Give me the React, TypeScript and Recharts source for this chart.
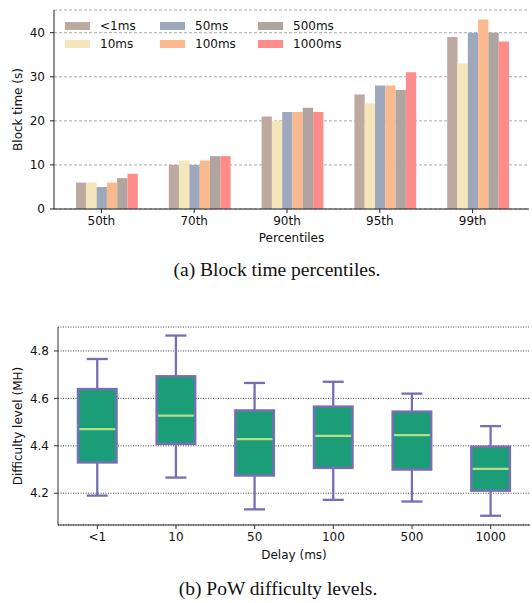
import {
  BarChart,
  Bar,
  ComposedChart,
  XAxis,
  YAxis,
  CartesianGrid,
  Legend,
  Label,
} from 'recharts';

// (a) block time percentiles
const percentiles = ['50th', '70th', '90th', '95th', '99th'];
const delayNames = ['<1ms', '10ms', '50ms', '100ms', '500ms', '1000ms'];
const lt1ms = [6, 10, 21, 26, 39];
const ms10 = [6, 11, 20, 24, 33];
const ms50 = [5, 10, 22, 28, 40];
const ms100 = [6, 11, 22, 28, 43];
const ms500 = [7, 12, 23, 27, 40];
const ms1000 = [8, 12, 22, 31, 38];
const blockTicks = [0, 10, 20, 30, 40];

// (b) PoW difficulty boxes
const delayTicks = ['<1', '10', '50', '100', '500', '1000'];
const boxMin = [4.19, 4.266, 4.132, 4.172, 4.165, 4.105];
const boxQ1 = [4.33, 4.408, 4.275, 4.307, 4.3, 4.211];
const boxMedian = [4.47, 4.527, 4.428, 4.442, 4.445, 4.303];
const boxQ3 = [4.639, 4.693, 4.549, 4.565, 4.544, 4.396];
const boxMax = [4.766, 4.865, 4.665, 4.67, 4.62, 4.483];
const difficultyTicks = [4.2, 4.4, 4.6, 4.8];

const BAR_COLORS = ['#bcaaa0', '#f5e6b9', '#9da8bd', '#fbb98f', '#aea5a1', '#ff8b8b'];
const BOX_FILL = '#1b9e77';
const BOX_EDGE = '#7570b3';
const MEDIAN = '#b2df8a';
const SANS = '"DejaVu Sans", sans-serif';
const TEXT = '#111';

const seriesValues = [lt1ms, ms10, ms50, ms100, ms500, ms1000];
const blockData = percentiles.map((p, i) => {
  const row: Record<string, string | number> = { name: p };
  delayNames.forEach((d, k) => {
    row[d] = seriesValues[k][i];
  });
  return row;
});

const boxData = delayTicks.map((name, i) => ({
  name,
  min: boxMin[i],
  q1: boxQ1[i],
  median: boxMedian[i],
  q3: boxQ3[i],
  max: boxMax[i],
}));

const tickStyle = { fontSize: 12, fill: TEXT, fontFamily: SANS };

// matplotlib put the tick under the 3rd bar of each group, half a bar left of centre
const ShiftedTick = (props: any) => {
  const { x, y, payload } = props;
  const tx = x - 5;
  return (
    <g>
      <line x1={tx} x2={tx} y1={y - 7} y2={y - 3} stroke="#222" />
      <text x={tx} y={y} dy="0.71em" textAnchor="middle" {...tickStyle}>
        {payload.value}
      </text>
    </g>
  );
};

const LegendGrid = (props: any) => {
  // keep series order (recharts sorts legend items by name otherwise)
  const items = [...(props.payload || [])].sort(
    (a: any, b: any) => delayNames.indexOf(a.value) - delayNames.indexOf(b.value)
  );
  return (
    <div
      style={{
        display: 'grid',
        gridTemplateColumns: '95px 98px 110px',
        gridTemplateRows: '18px 18px',
        gridAutoFlow: 'column',
        fontFamily: SANS,
        fontSize: 12,
        color: TEXT,
      }}
    >
      {items.map((it: any) => (
        <div key={it.value} style={{ display: 'flex', alignItems: 'center' }}>
          <span style={{ width: 25, height: 8.5, background: it.color, marginRight: 10 }} />
          <span>{it.value}</span>
        </div>
      ))}
    </div>
  );
};

const BoxShape = (props: any) => {
  const { x, y, width, height, payload } = props;
  const { min, q1, median, q3, max } = payload;
  const toY = (v: number) => y + (height * (max - v)) / (max - min);
  const cx = x + width / 2;
  const cap = 21;
  return (
    <g>
      <line x1={cx} x2={cx} y1={toY(max)} y2={toY(q3)} stroke={BOX_EDGE} strokeWidth={2.3} />
      <line x1={cx} x2={cx} y1={toY(q1)} y2={toY(min)} stroke={BOX_EDGE} strokeWidth={2.3} />
      <line x1={cx - cap / 2} x2={cx + cap / 2} y1={toY(max)} y2={toY(max)} stroke={BOX_EDGE} strokeWidth={2.3} />
      <line x1={cx - cap / 2} x2={cx + cap / 2} y1={toY(min)} y2={toY(min)} stroke={BOX_EDGE} strokeWidth={2.3} />
      <rect
        x={x}
        y={toY(q3)}
        width={width}
        height={toY(q1) - toY(q3)}
        fill={BOX_FILL}
        stroke={BOX_EDGE}
        strokeWidth={2.5}
      />
      <line
        x1={x + 1.3}
        x2={x + width - 1.3}
        y1={toY(median)}
        y2={toY(median)}
        stroke={MEDIAN}
        strokeWidth={2.3}
      />
    </g>
  );
};

const captionStyle = {
  position: 'absolute' as const,
  transform: 'translateX(-50%)',
  whiteSpace: 'nowrap' as const,
  fontFamily: '"Liberation Serif", "Times New Roman", serif',
  fontSize: 19.5,
  color: '#111',
};

export default function App() {
  return (
    <div style={{ position: 'absolute', left: 0, top: 0, width: 532, height: 603, background: '#fff' }}>
      <div style={{ position: 'absolute', left: 0, top: 0 }}>
        <BarChart
          width={532}
          height={250}
          data={blockData}
          margin={{ top: 10, right: 3, bottom: 11, left: 0 }}
          barGap={0}
          barSize={10.3}
        >
          <CartesianGrid vertical={false} stroke="#aaa" strokeDasharray="3 2" />
          <XAxis
            dataKey="name"
            height={30}
            padding={{ left: 6, right: 5 }}
            tickSize={4}
            tickMargin={3}
            tickLine={false}
            tick={<ShiftedTick />}
            axisLine={{ stroke: '#222' }}
          >
            <Label value="Percentiles" position="center" dy={14} style={{ ...tickStyle }} />
          </XAxis>
          <XAxis xAxisId="top" dataKey="name" orientation="top" height={0} tick={false} tickLine={false} axisLine={{ stroke: '#222' }} />
          <YAxis
            width={54}
            domain={[0, 45.15]}
            ticks={blockTicks}
            tickSize={4}
            tickMargin={5}
            tick={tickStyle}
            tickLine={{ stroke: '#222' }}
            axisLine={{ stroke: '#222' }}
          >
            <Label value="Block time (s)" angle={-90} position="center" dx={-9} style={{ ...tickStyle }} />
          </YAxis>
          <YAxis yAxisId="right" orientation="right" width={0} tick={false} tickLine={false} axisLine={{ stroke: '#222' }} />
          <Legend
            layout="horizontal"
            verticalAlign="middle"
            align="center"
            wrapperStyle={{ left: 65, top: 17, width: 310 }}
            content={<LegendGrid />}
          />
          {delayNames.map((d, k) => (
            <Bar key={d} dataKey={d} fill={BAR_COLORS[k]} isAnimationActive={false} />
          ))}
        </BarChart>
      </div>

      <div style={{ ...captionStyle, left: 277, top: 259 }}>(a) Block time percentiles.</div>

      <div style={{ position: 'absolute', left: 0, top: 300 }}>
        <ComposedChart
          width={532}
          height={275}
          data={boxData}
          margin={{ top: 27, right: 2, bottom: 20, left: 0 }}
        >
          <CartesianGrid vertical={false} stroke="#333" strokeWidth={0.9} strokeDasharray="1 1.5" />
          <XAxis
            dataKey="name"
            height={30}
            tickSize={4}
            tickMargin={3}
            tick={tickStyle}
            tickLine={{ stroke: '#333' }}
            axisLine={{ stroke: '#333' }}
          >
            <Label value="Delay (ms)" position="center" dy={15} style={{ ...tickStyle }} />
          </XAxis>
          <XAxis xAxisId="top" dataKey="name" orientation="top" height={0} tick={false} tickLine={false} axisLine={{ stroke: '#333' }} />
          <YAxis
            width={58}
            domain={[4.066, 4.901]}
            ticks={difficultyTicks}
            allowDataOverflow
            tickFormatter={(v: number) => v.toFixed(1)}
            tickSize={4}
            tickMargin={5}
            tick={tickStyle}
            tickLine={{ stroke: '#333' }}
            axisLine={{ stroke: '#333' }}
          >
            <Label value="Difficulty level (MH)" angle={-90} position="center" dx={-11} style={{ ...tickStyle }} />
          </YAxis>
          <YAxis yAxisId="right" orientation="right" width={0} tick={false} tickLine={false} axisLine={{ stroke: '#333' }} />
          <Bar
            dataKey={(d: any) => [d.min, d.max]}
            barSize={38.5}
            shape={<BoxShape />}
            isAnimationActive={false}
          />
        </ComposedChart>
      </div>

      <div style={{ ...captionStyle, left: 278, top: 578 }}>(b) PoW difficulty levels.</div>
    </div>
  );
}
